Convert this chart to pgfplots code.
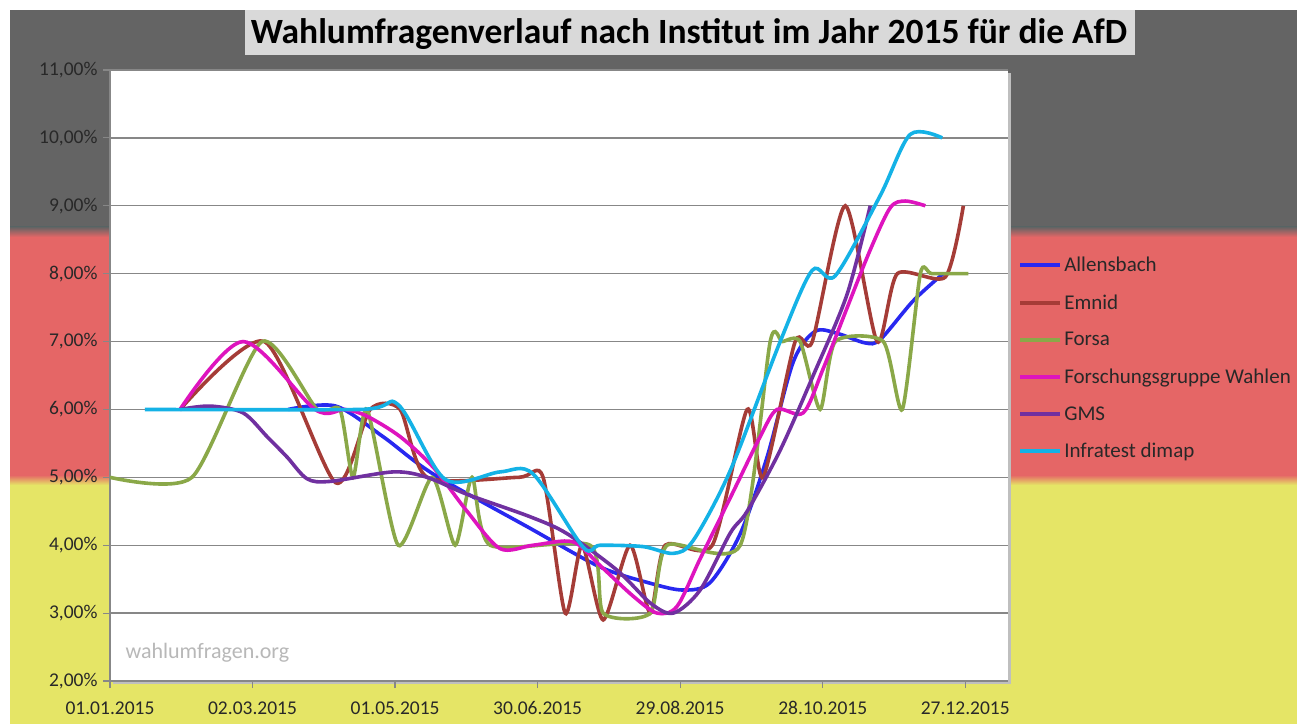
\documentclass[border=0pt]{standalone}
\usepackage{pgfplots}
\pgfplotsset{compat=1.18}
\usepackage{fontspec}
\setmainfont{Carlito}
\definecolor{bggray}{RGB}{100,100,100}
\definecolor{bgred}{RGB}{229,102,102}
\definecolor{bgyellow}{RGB}{229,229,102}
\definecolor{cAll}{RGB}{40,40,240}
\definecolor{cEmn}{RGB}{165,60,55}
\definecolor{cFor}{RGB}{138,168,72}
\definecolor{cFGW}{RGB}{222,20,190}
\definecolor{cGMS}{RGB}{112,48,160}
\definecolor{cInf}{RGB}{20,178,230}
\definecolor{titlebox}{RGB}{217,217,217}
\definecolor{gridc}{RGB}{135,135,135}
\definecolor{labc}{RGB}{40,40,40}
\begin{document}
\begin{tikzpicture}[x=1pt,y=1pt]
\useasboundingbox (0,0) rectangle (1297,724);
\fill[white] (0,0) rectangle (1297,724);
\fill[bgyellow] (10,0) rectangle (1297,240);
\fill[bgred] (10,248) rectangle (1297,488);
\fill[bggray] (10,496) rectangle (1297,714);
\shade[top color=bgred, bottom color=bgyellow] (10,239) rectangle (1297,249);
\shade[top color=bggray, bottom color=bgred] (10,487) rectangle (1297,497);
\fill[titlebox] (245,669) rectangle (1135,714);
\node[font=\fontsize{35.5}{40}\selectfont\bfseries, text=black] at (689,690) {Wahlumfragenverlauf nach Institut im Jahr 2015 für die AfD};
\fill[black!25] (113,40) rectangle (1011,651);
\begin{axis}[
  at={(110pt,43pt)}, anchor=south west,
  scale only axis, width=898pt, height=611pt,
  xmin=0, xmax=378, ymin=2, ymax=11,
  axis background/.style={fill=white},
  axis x line*=bottom, axis y line*=left,
  axis line style={draw=gridc, line width=1.2pt},
  tick style={draw=gridc, line width=1.2pt},
  major tick length=7pt, tick align=outside,
  ymajorgrids, grid style={draw=gridc, line width=1.3pt},
  xtick={0,60,120,180,240,300,360},
  xticklabels={01.01.2015,02.03.2015,01.05.2015,30.06.2015,29.08.2015,28.10.2015,27.12.2015},
  ytick={2,3,4,5,6,7,8,9,10,11},
  yticklabels={{2,00\%},{3,00\%},{4,00\%},{5,00\%},{6,00\%},{7,00\%},{8,00\%},{9,00\%},{10,00\%},{11,00\%}},
  ticklabel style={font=\fontsize{19.5}{22}\selectfont, text=labc},
  xticklabel style={yshift=-10pt},
  yticklabel style={xshift=-2pt},
  legend style={draw=none, fill=none, at={(axis description cs:1.0112,0.5286)}, anchor=west,
    font=\fontsize{21}{24}\selectfont, text=labc, row sep=17.6pt, inner sep=0pt},
  legend cell align=left,
  legend image code/.code={\draw[#1, line width=4pt] (0pt,0pt) -- (40pt,0pt);},
  every axis plot/.append style={line width=3.6pt, smooth, tension=0.5},
]
\addplot[cAll] coordinates {(75,6.0)(95,6.05)(114.9,5.6)(136,5.05)(176.8,4.25)(206.3,3.68)(227.4,3.44)(241.3,3.34)(252.6,3.45)(265.3,4.17)(276.6,5.3)(287.6,6.7)(296.8,7.15)(306.1,7.12)(317.9,6.98)(324.2,7.03)(338.1,7.6)(350.7,8.0)};
\addlegendentry{Allensbach}
\addplot[cEmn, tension=0.42] coordinates {(29.5,6.0)(65,7.0)(95,4.92)(109.5,6.0)(122.1,6.0)(133.5,5.0)(172,5.0)(182.3,5.0)(191.6,3.0)(198.7,4.0)(207.6,2.9)(218.9,4.0)(227.4,3.0)(233.7,4.0)(253.5,4.0)(268.2,6.0)(274.9,5.0)(288.4,7.0)(295.6,7.0)(309.5,9.0)(322.9,7.0)(331.4,8.0)(351.6,7.95)(359.2,9.0)};
\addlegendentry{Emnid}
\addplot[cFor, tension=0.4] coordinates {(0,5.0)(34.5,5.0)(64,7.0)(87.2,6.0)(96.8,6.0)(102.3,5.0)(108.2,6.0)(121.3,4.0)(135.6,5.0)(145.3,4.0)(152.4,5.0)(160,4.0)(202.1,4.0)(207.6,3.0)(227.4,3.0)(234.5,4.0)(265.3,4.0)(277.9,7.0)(283,7.0)(290.5,7.0)(298.9,6.0)(305.3,7.0)(325.5,7.0)(333.5,6.0)(341.1,8.0)(346,8.0)(361.3,8.0)};
\addlegendentry{Forsa}
\addplot[cFGW] coordinates {(29.5,6.0)(56,7.0)(86.3,6.0)(98.9,6.0)(108.2,5.9)(122.1,5.6)(136,5.15)(150.3,4.5)(164.2,3.95)(178.1,4.0)(194.9,4.05)(206.3,3.7)(220.2,3.25)(230.3,3.0)(238.7,3.1)(248.4,3.8)(261.1,4.7)(273.7,5.6)(280.8,6.0)(291.8,5.95)(300.2,6.6)(310.3,7.5)(320,8.35)(328.4,8.97)(334.7,9.07)(343.2,9.0)};
\addlegendentry{Forschungsgruppe Wahlen}
\addplot[cGMS] coordinates {(29.5,6.0)(42.1,6.05)(56,5.95)(66.1,5.6)(74.5,5.3)(82.9,4.98)(92.6,4.94)(119.2,5.08)(133.5,5.0)(150.3,4.75)(176.8,4.42)(192.4,4.17)(213.5,3.63)(227.4,3.15)(237.1,3.0)(248.4,3.34)(261.1,4.18)(268.2,4.5)(282.1,5.4)(296,6.5)(310.3,7.7)(320,9.0)};
\addlegendentry{GMS}
\addplot[cInf] coordinates {(14.7,6.0)(105.3,6.0)(121.3,6.07)(141.1,4.97)(164.2,5.08)(178.1,5.05)(199.2,3.97)(206.3,4.0)(224.4,3.98)(237.1,3.88)(245.5,4.07)(261.1,5.1)(282.1,7.0)(295.6,8.05)(305.3,7.97)(324.2,9.15)(336.8,10.05)(350.3,10.0)};
\addlegendentry{Infratest dimap}
\end{axis}
\node[anchor=west, font=\fontsize{22}{25}\selectfont, text=black!28] at (122,71) {wahlumfragen.org};
\end{tikzpicture}
\end{document}
